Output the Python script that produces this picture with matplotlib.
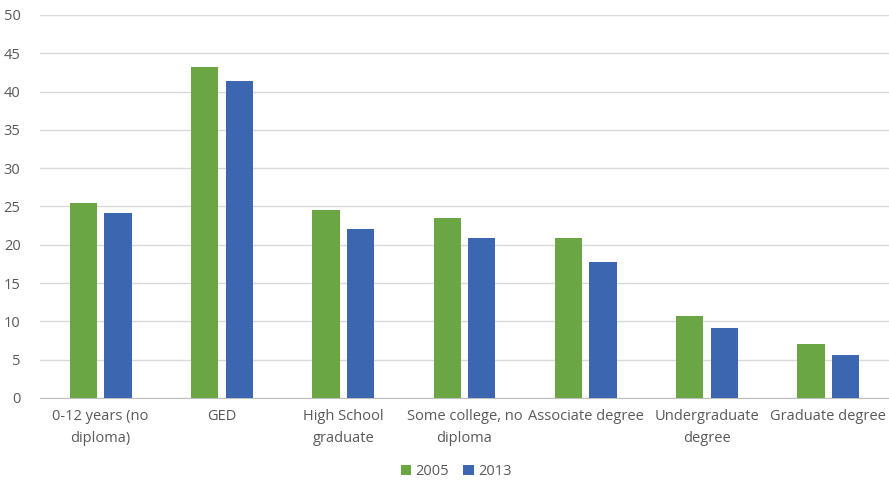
import numpy as np
import matplotlib.pyplot as plt

plt.rcParams['font.family'] = ['Open Sans', 'DejaVu Sans']

categories = ["0-12 years (no\ndiploma)", "GED", "High School\ngraduate",
              "Some college, no\ndiploma", "Associate degree",
              "Undergraduate\ndegree", "Graduate degree"]
vals_2005 = [25.5, 43.2, 24.6, 23.5, 20.9, 10.7, 7.1]
vals_2013 = [24.2, 41.4, 22.0, 20.9, 17.8, 9.1, 5.6]

green = "#6AA644"
blue = "#3C67B0"
text_col = "#595959"

fig = plt.figure(figsize=(8.89, 4.83), dpi=100)
ax = fig.add_axes([0.045, 0.176, 0.955, 0.793])

x = np.arange(len(categories))
w = 0.225
ax.bar(x - 0.143, vals_2005, w, color=green, label="2005", zorder=3)
ax.bar(x + 0.143, vals_2013, w, color=blue, label="2013", zorder=3)

ax.set_xlim(-0.5, len(categories) - 0.5)
ax.set_ylim(0, 50)
ax.set_yticks(range(0, 51, 5))
ax.yaxis.grid(True, color="#D9D9D9", linewidth=1, zorder=0)
ax.set_axisbelow(True)

for s in ["top", "right", "left"]:
    ax.spines[s].set_visible(False)
ax.spines["bottom"].set_color("#BFBFBF")

ax.set_xticks(x)
ax.set_xticklabels(categories, fontsize=10.5, color=text_col, linespacing=1.6)
ax.tick_params(axis="x", length=0, pad=8)
ax.tick_params(axis="y", length=0, pad=14, labelsize=10.5, labelcolor=text_col)
for lab in ax.get_yticklabels():
    lab.set_horizontalalignment("right")

ax.legend(loc="center", bbox_to_anchor=(0.49, -0.193), ncol=2, frameon=False,
          fontsize=10.5, labelcolor=text_col, handlelength=0.7, handleheight=0.7,
          handletextpad=0.3, columnspacing=1.0, borderpad=0.2)

fig.savefig("out.png", dpi=100)
